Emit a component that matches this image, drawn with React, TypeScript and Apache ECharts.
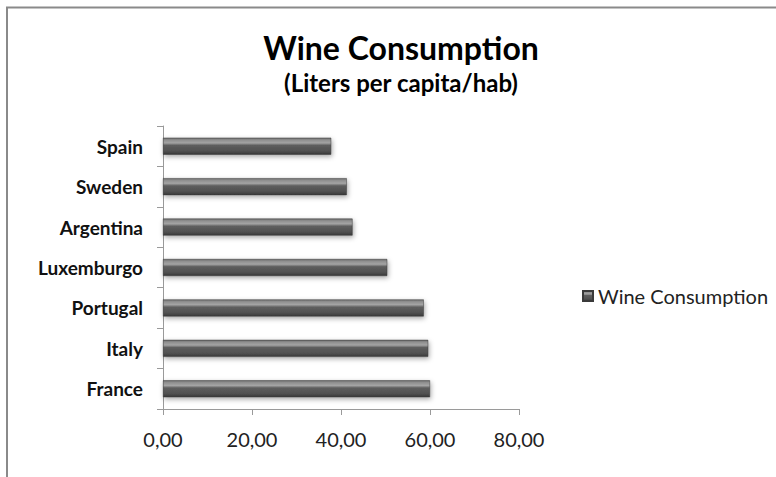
import React, { useEffect, useRef } from "react";
import * as echarts from "echarts";

// Countries listed bottom-to-top on the category axis
const countries = ["France", "Italy", "Portugal", "Luxemburgo", "Argentina", "Sweden", "Spain"];
// Liters per capita
const consumption = [60.0, 59.6, 58.6, 50.4, 42.6, 41.3, 37.8];
const xTicks = [0, 20, 40, 60, 80];

const FONT = "Lato, 'Open Sans', sans-serif";

const barGradient = new echarts.graphic.LinearGradient(0, 0, 0, 1, [
  { offset: 0, color: "#6a6a6a" },
  { offset: 0.12, color: "#8f8f8f" },
  { offset: 0.3, color: "#a4a4a4" },
  { offset: 0.45, color: "#5e5e5e" },
  { offset: 0.8, color: "#505050" },
  { offset: 1, color: "#383838" },
]);

export default function App() {
  const ref = useRef<HTMLDivElement>(null);

  useEffect(() => {
    if (!ref.current) return;
    const chart = echarts.init(ref.current, null, { renderer: "svg" });
    chart.setOption({
      animation: false,
      backgroundColor: "#ffffff",
      title: {
        text: "Wine Consumption",
        subtext: "(Liters per capita/hab)",
        left: 396,
        textAlign: "center",
        top: 26,
        itemGap: 7,
        textStyle: { fontFamily: FONT, fontSize: 32, fontWeight: "bold", color: "#000" },
        subtextStyle: { fontFamily: FONT, fontSize: 24, fontWeight: "bold", color: "#000" },
      },
      legend: {
        left: 577,
        top: 281,
        icon: "rect",
        itemWidth: 10,
        itemHeight: 10,
        itemGap: 6,
        textStyle: { fontFamily: FONT, fontSize: 20, color: "#222" },
        data: ["Wine Consumption"],
      },
      grid: { left: 163, right: 257, top: 126, bottom: 68 },
      xAxis: {
        type: "value",
        min: xTicks[0],
        max: xTicks[xTicks.length - 1],
        interval: 20,
        splitLine: { show: false },
        axisLine: { show: true, lineStyle: { color: "#9a9a9a", width: 1 } },
        axisTick: { show: true, length: 6, lineStyle: { color: "#9a9a9a" } },
        axisLabel: {
          fontFamily: FONT,
          fontSize: 20,
          color: "#222",
          margin: 20,
          formatter: (v: number) => v.toFixed(2).replace(".", ","),
        },
      },
      yAxis: {
        type: "category",
        data: countries,
        axisLine: { show: true, lineStyle: { color: "#9a9a9a", width: 1 } },
        axisTick: { show: true, length: 6, lineStyle: { color: "#9a9a9a" } },
        axisLabel: {
          fontFamily: FONT,
          fontSize: 19,
          fontWeight: "bold",
          color: "#111",
          margin: 20,
        },
      },
      series: [
        {
          name: "Wine Consumption",
          type: "bar",
          data: consumption,
          barWidth: 17,
          itemStyle: {
            color: barGradient,
            borderColor: "#3a3a3a",
            borderWidth: 0.5,
            shadowColor: "rgba(0,0,0,0.35)",
            shadowBlur: 5,
            shadowOffsetX: 1,
            shadowOffsetY: 2,
          },
        },
      ],
      graphic: [
        {
          type: "line",
          shape: { x1: 6, y1: 7.5, x2: 776, y2: 7.5 },
          style: { stroke: "#8a8a8a", lineWidth: 2 },
          silent: true,
        },
        {
          type: "line",
          shape: { x1: 7, y1: 7, x2: 7, y2: 477 },
          style: { stroke: "#8a8a8a", lineWidth: 2 },
          silent: true,
        },
      ],
    });
    return () => chart.dispose();
  }, []);

  return (
    <div
      ref={ref}
      style={{ position: "fixed", left: 0, top: 0, width: 776, height: 477 }}
    />
  );
}
